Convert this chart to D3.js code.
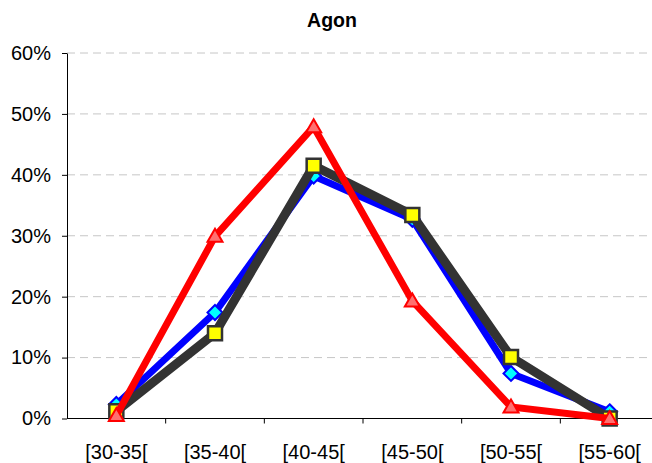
<!DOCTYPE html>
<html>
<head>
<meta charset="utf-8">
<script src="https://cdn.jsdelivr.net/npm/d3@7"></script>
<style>
  html, body { margin: 0; padding: 0; background: #fff; }
  svg { display: block; font-family: "Liberation Sans", Arial, sans-serif; }
</style>
</head>
<body>
<svg id="chart" width="652" height="463"></svg>
<script>
// Age classes on the x axis
const categories = ["[30-35[", "[35-40[", "[40-45[", "[45-50[", "[50-55[", "[55-60["];
// Share of each age class, per series (draw order: blue, dark, red)
const blueValues = [0.023, 0.174, 0.398, 0.327, 0.074, 0.011];
const darkValues = [0.012, 0.140, 0.415, 0.334, 0.101, 0.000];
const redValues  = [0.005, 0.299, 0.479, 0.193, 0.019, 0.000];
// Y axis ticks
const yTicks = [0, 0.1, 0.2, 0.3, 0.4, 0.5, 0.6];
const title = "Agon";

const svg = d3.select("#chart");
const W = 652, H = 463;
const plotLeft = 67, plotBottom = 418.5, plotTop = 53, plotRight = 659;

const x = d3.scaleBand().domain(categories).range([plotLeft, plotRight]).padding(0);
const y = d3.scaleLinear().domain([0, 0.6]).range([plotBottom, plotTop]);
const cx = c => x(c) + x.bandwidth() / 2;

// Title
svg.append("text")
  .attr("x", 332).attr("y", 27)
  .attr("text-anchor", "middle")
  .attr("font-weight", "bold")
  .attr("font-size", 19.5)
  .text(title);

// Dashed horizontal gridlines
svg.append("g")
  .selectAll("line")
  .data(yTicks.filter(d => d > 0))
  .join("line")
  .attr("x1", plotLeft).attr("x2", W)
  .attr("y1", d => y(d)).attr("y2", d => y(d))
  .attr("stroke", "#c6c6c6")
  .attr("stroke-width", 1)
  .attr("stroke-dasharray", "8,5");

// Y axis
const yAxis = svg.append("g")
  .attr("transform", `translate(${plotLeft},0)`)
  .call(d3.axisLeft(y).tickValues(yTicks).tickFormat(d3.format(".0%"))
    .tickSize(5).tickSizeOuter(0).tickPadding(11));
yAxis.select(".domain").attr("stroke", "#000");
yAxis.selectAll(".tick line").attr("stroke", "#000");
yAxis.selectAll("text").attr("font-size", 20).attr("fill", "#000")
  .attr("font-family", "Liberation Sans, Arial, sans-serif");

// X axis: labels centred in each band, ticks on band boundaries
const xAxis = svg.append("g")
  .attr("transform", `translate(0,${plotBottom})`)
  .call(d3.axisBottom(x).tickSize(0).tickPadding(26));
xAxis.select(".domain").remove();
xAxis.selectAll("text").attr("font-size", 20).attr("fill", "#000")
  .attr("font-family", "Liberation Sans, Arial, sans-serif");
svg.append("line")
  .attr("x1", plotLeft).attr("x2", W)
  .attr("y1", plotBottom).attr("y2", plotBottom)
  .attr("stroke", "#000");
svg.append("g")
  .selectAll("line")
  .data(categories.slice(1))
  .join("line")
  .attr("x1", d => x(d)).attr("x2", d => x(d))
  .attr("y1", plotBottom).attr("y2", plotBottom + 5)
  .attr("stroke", "#000");

const line = d3.line().x((d, i) => cx(categories[i])).y(d => y(d));

const series = [
  { values: blueValues, stroke: "#0000ff", width: 7, marker: "diamond", fill: "#00ffff", mstroke: "#0000ff" },
  { values: darkValues, stroke: "#333333", width: 9, marker: "square", fill: "#ffff00", mstroke: "#333333" },
  { values: redValues,  stroke: "#ff0000", width: 7, marker: "triangle", fill: "#ff7070", mstroke: "#ff0000" }
];

function markerPath(type) {
  if (type === "diamond") return "M0,-7.5L7.5,0L0,7.5L-7.5,0Z";
  if (type === "square") return "M-7,-7H7V7H-7Z";
  return "M0,-7.5L7.5,5.5L-7.5,5.5Z";
}

series.forEach(s => {
  const g = svg.append("g");
  g.append("path")
    .datum(s.values)
    .attr("d", line)
    .attr("fill", "none")
    .attr("stroke", s.stroke)
    .attr("stroke-width", s.width)
    .attr("stroke-linejoin", "miter");
  g.selectAll("path.m")
    .data(s.values)
    .join("path")
    .attr("class", "m")
    .attr("transform", (d, i) => `translate(${cx(categories[i])},${y(d)})`)
    .attr("d", markerPath(s.marker))
    .attr("fill", s.fill)
    .attr("stroke", s.mstroke)
    .attr("stroke-width", s.marker === "square" ? 2.5 : 2);
});
</script>
</body>
</html>
